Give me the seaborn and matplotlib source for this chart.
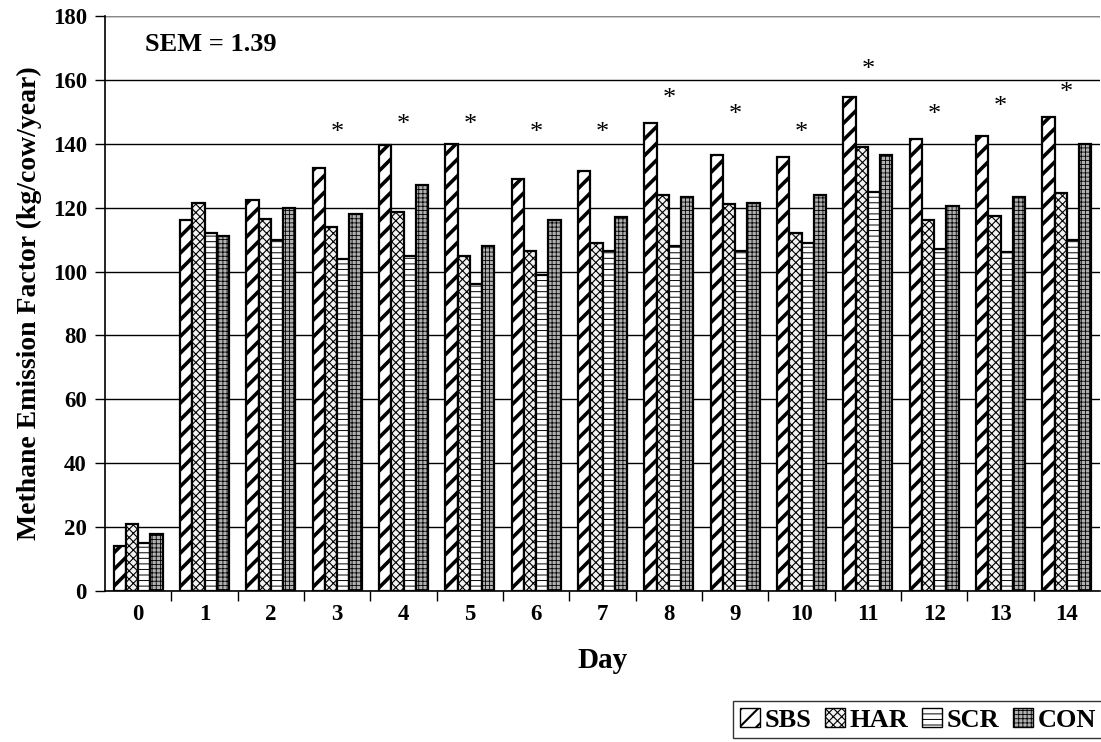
import numpy as np
import pandas as pd
import matplotlib
matplotlib.use("Agg")
import matplotlib.pyplot as plt
import seaborn as sns
from matplotlib.ticker import MultipleLocator, FixedLocator
from matplotlib.patches import Patch

days = [str(d) for d in range(15)]
treatments = ["SBS", "HAR", "SCR", "CON"]
sbs = [14, 116, 122.5, 132.5, 139.5, 140, 129, 131.5, 146.5, 136.5, 136, 154.5, 141.5, 142.5, 148.5]
har = [21, 121.5, 116.5, 114, 118.5, 105, 106.5, 109, 124, 121, 112, 139, 116, 117.5, 124.5]
scr = [15, 112, 110, 104, 105, 96, 99, 106.5, 108, 106.5, 109, 125, 107, 106, 110]
con = [18, 111, 120, 118, 127, 108, 116, 117, 123.5, 121.5, 124, 136.5, 120.5, 123.5, 140]
star_days = [3, 4, 5, 6, 7, 8, 9, 10, 11, 12, 13, 14]
star_y = [143.5, 146, 146, 143.5, 143.5, 154, 149, 143.5, 163, 149, 151.5, 156]
sem_text = "SEM = 1.39"

df = pd.DataFrame({
    "Day": days * 4,
    "Treatment": sum([[t] * 15 for t in treatments], []),
    "Value": sbs + har + scr + con,
})

sns.set_style("white")
plt.rcParams["font.family"] = ["Liberation Serif", "DejaVu Serif"]
plt.rcParams["font.weight"] = "bold"
plt.rcParams["text.color"] = "black"
plt.rcParams["axes.labelcolor"] = "black"
plt.rcParams["xtick.color"] = "black"
plt.rcParams["ytick.color"] = "black"
plt.rcParams["hatch.linewidth"] = 0.8

fig = plt.figure(figsize=(11.01, 7.42), dpi=100)
ax = fig.add_axes([0.0954, 0.2035, 0.9037, 0.7749])

faces = {"SBS": "white", "HAR": "#f2f2f2", "SCR": "white", "CON": "#b0b0b0"}
hatch_list = ["//", "xxxx", "---", "++++"]
hatch_lw = [2.6, 0.8, 0.7, 0.6]
sns.barplot(data=df, x="Day", y="Value", hue="Treatment", hue_order=treatments,
            order=days, palette=faces, width=0.74, edgecolor="black",
            linewidth=1.6, ax=ax, legend=False, zorder=3)


def style_patch(p, h, lw):
    p.set_hatch(h)
    try:
        p.set_hatch_linewidth(lw)
    except Exception:
        p._hatch_linewidth = lw


for cont, h, lw in zip(ax.containers, hatch_list, hatch_lw):
    for p in cont:
        style_patch(p, h, lw)

ax.set_ylim(0, 180)
ax.set_xlim(-0.5, 14.5)
ax.yaxis.set_major_locator(MultipleLocator(20))
ax.grid(axis="y", color="black", linewidth=1.0, zorder=0)
ax.set_axisbelow(True)
for s in ["top", "right"]:
    ax.spines[s].set_visible(False)
for s in ["left", "bottom"]:
    ax.spines[s].set_color("black")
    ax.spines[s].set_linewidth(1.2)
ax.axhline(180, color="#888888", linewidth=1.5, zorder=1)

ax.tick_params(axis="x", which="major", length=0, pad=9, labelsize=16.5)
ax.xaxis.set_minor_locator(FixedLocator(np.arange(0.5, 14.5, 1.0)))
ax.tick_params(axis="x", which="minor", length=7, direction="out", width=1, color="black", bottom=True)
ax.tick_params(axis="y", which="major", length=7, direction="out", width=1, labelsize=16.5, left=True, color="black", pad=6)
for lbl in ax.get_xticklabels() + ax.get_yticklabels():
    lbl.set_fontweight("bold")

ax.set_xlabel("Day", fontsize=21, fontweight="bold", labelpad=16)
ax.set_ylabel("Methane Emission Factor (kg/cow/year)", fontsize=20, fontweight="bold", labelpad=8)

for d, y in zip(star_days, star_y):
    ax.text(d, y, "*", ha="center", va="center", fontsize=19, fontweight="normal")

ax.text(0.04, 0.95, sem_text, transform=ax.transAxes, ha="left", va="center",
        fontsize=19, fontweight="bold")

handles = []
for t, h, lw in zip(treatments, hatch_list, hatch_lw):
    hp = Patch(facecolor=faces[t], edgecolor="black", hatch=h, linewidth=1.0)
    handles.append(hp)
leg = ax.legend(handles, treatments, loc="upper right", bbox_to_anchor=(1.003, -0.192), ncol=4,
                frameon=True, fancybox=False, edgecolor="black",
                prop={"weight": "bold", "size": 19}, handlelength=0.75,
                handleheight=0.75, handletextpad=0.2, columnspacing=0.5,
                borderpad=0.25, borderaxespad=0)
leg.get_frame().set_linewidth(1.0)
for hp, h, lw in zip(leg.get_patches(), hatch_list, hatch_lw):
    style_patch(hp, h, min(lw, 1.5))

fig.savefig("out.png", dpi=100)
